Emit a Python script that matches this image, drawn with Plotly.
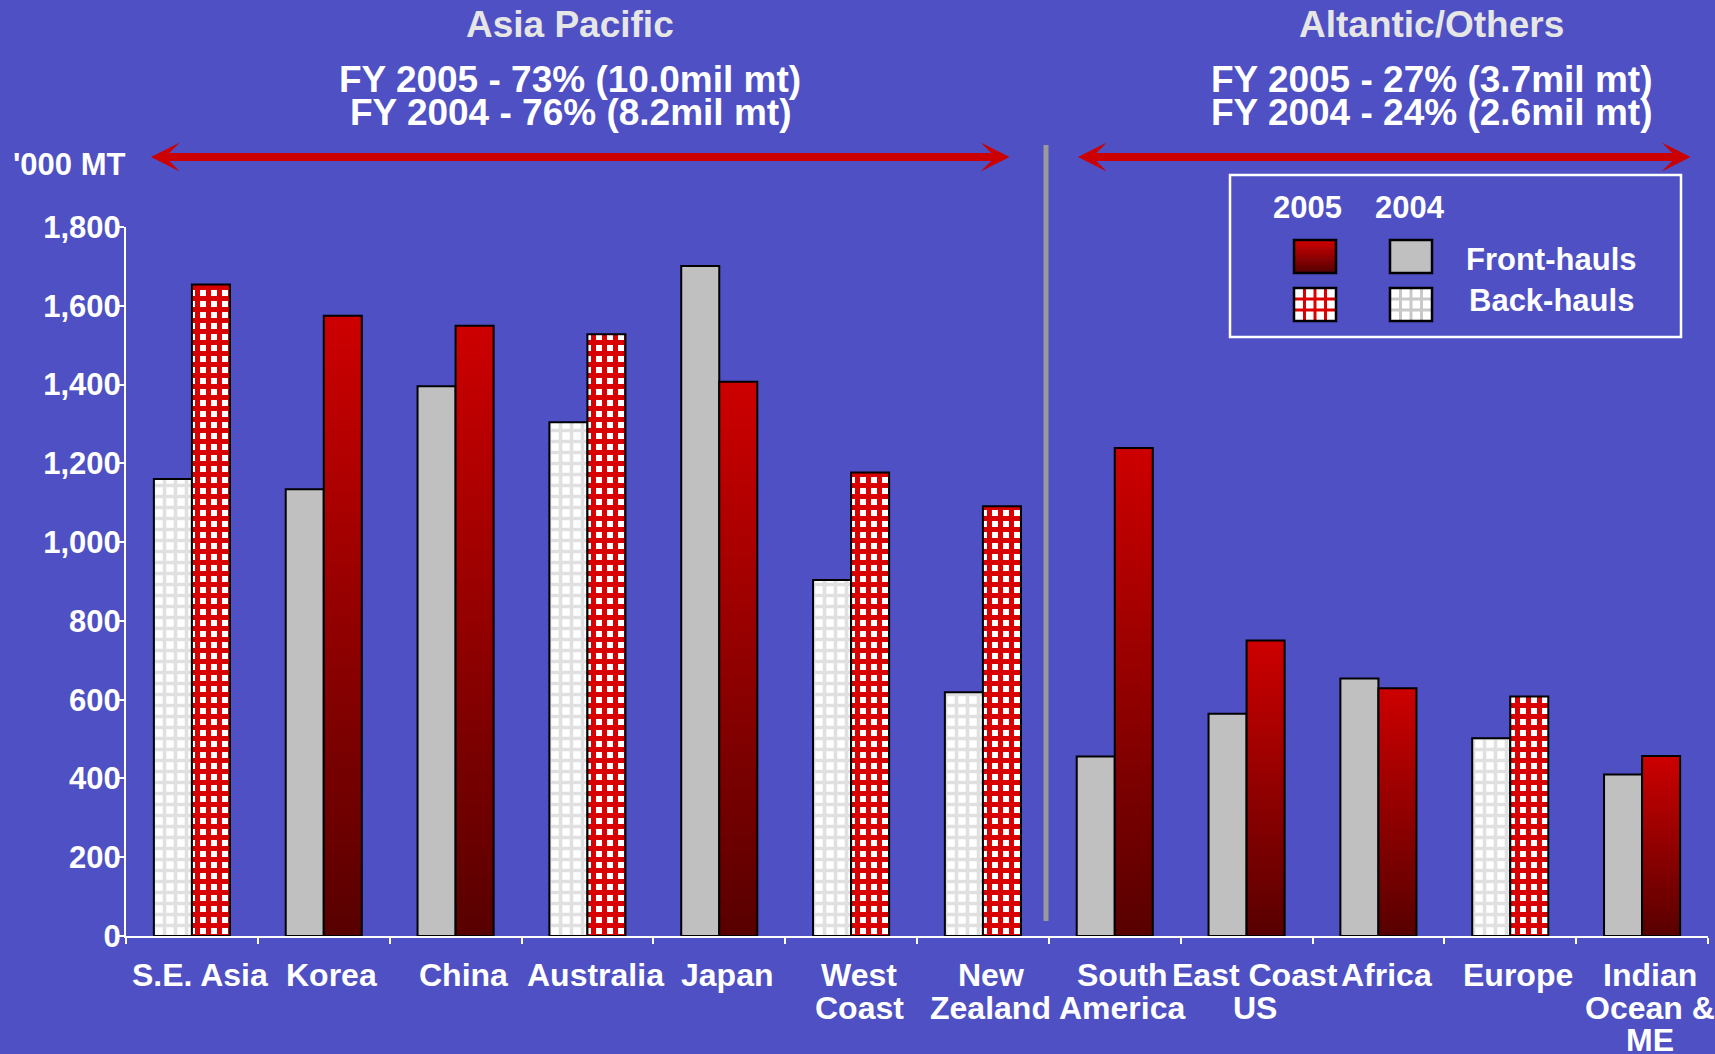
import plotly.graph_objects as go

# ---------------- data ----------------
categories = ["S.E. Asia", "Korea", "China", "Australia", "Japan", "West<br>Coast",
              "New<br>Zealand", "South<br>America", "East Coast<br>US", "Africa",
              "Europe", "Indian<br>Ocean &<br>ME"]
haul_type = ["Back", "Front", "Front", "Back", "Front", "Back",
             "Back", "Front", "Front", "Front", "Back", "Front"]
values_2004 = [1160, 1134, 1396, 1304, 1701, 904, 619, 456, 564, 654, 502, 410]
values_2005 = [1654, 1575, 1549, 1528, 1407, 1177, 1091, 1239, 750, 629, 608, 457]
y_ticks = [0, 200, 400, 600, 800, 1000, 1200, 1400, 1600, 1800]

region_titles = ["Asia Pacific", "Altantic/Others"]
region_line1 = ["FY 2005 - 73% (10.0mil mt)", "FY 2005 - 27% (3.7mil mt)"]
region_line2 = ["FY 2004 - 76% (8.2mil mt)", "FY 2004 - 24% (2.6mil mt)"]

# ---------------- style ----------------
BG = "#4E50C4"
FONT = "Liberation Sans, Arial, Helvetica, sans-serif"
GRAY = "#C0C0C0"
RED_TOP = (0xCC, 0x00, 0x00)
RED_BOTTOM = (0x58, 0x00, 0x00)
W, H = 1715, 1054
L, R, T, B = 126, 1708, 227, 936


def PX(x):
    return (x - L) / (R - L)


def PY(y):
    return (B - y) / (B - T)


def mix(t):
    return "rgb(%d,%d,%d)" % tuple(round(b + (a - b) * t) for a, b in zip(RED_TOP, RED_BOTTOM))


def only(values, kind):
    return [v if h == kind else None for v, h in zip(values, haul_type)]


fig = go.Figure()

# 2004 bars: front-hauls (solid gray) and back-hauls (gray grid on white)
fig.add_trace(go.Bar(
    x=categories, y=only(values_2004, "Front"), offsetgroup="2004", uid="f2004",
    name="2004 Front-hauls",
    marker=dict(color=GRAY, line=dict(color="black", width=2)),
))
fig.add_trace(go.Bar(
    x=categories, y=only(values_2004, "Back"), offsetgroup="2004", uid="b2004",
    name="2004 Back-hauls",
    marker=dict(color="#FFFFFF", line=dict(color="black", width=2),
                pattern=dict(shape="+", fgcolor="#C2C2C2", bgcolor="#FFFFFF",
                             size=11, solidity=0.55)),
))

# 2005 front-haul gradient (overlapping slices of each bar, dark bottom -> bright top)
N = 60
for i in range(N):
    t = i / (N - 1)
    base = [v * i / N if h == "Front" else None for v, h in zip(values_2005, haul_type)]
    hgt = [v * (1 - i / N) if h == "Front" else None for v, h in zip(values_2005, haul_type)]
    fig.add_trace(go.Bar(
        x=categories, y=hgt, base=base, offsetgroup="2005", uid="g%d" % i,
        marker=dict(color=mix(t), line=dict(width=0)),
        hoverinfo="skip", showlegend=False,
    ))

# 2005 front-haul outline
fig.add_trace(go.Bar(
    x=categories, y=only(values_2005, "Front"), offsetgroup="2005", uid="f2005",
    name="2005 Front-hauls",
    marker=dict(color="rgba(0,0,0,0)", line=dict(color="black", width=2)),
))
# 2005 back-hauls (red grid on white)
fig.add_trace(go.Bar(
    x=categories, y=only(values_2005, "Back"), offsetgroup="2005", uid="b2005",
    name="2005 Back-hauls",
    marker=dict(color="#FFFFFF", line=dict(color="black", width=2),
                pattern=dict(shape="+", fgcolor="#D80000", bgcolor="#FFFFFF",
                             fgopacity=1, size=11, solidity=0.7)),
))

shapes = []
annotations = []

# divider
shapes.append(dict(type="line", xref="paper", yref="paper",
                   x0=PX(1046), x1=PX(1046), y0=PY(145), y1=PY(921),
                   line=dict(color="#9A9A9A", width=5)))

# arrows
for x0, x1 in [(151, 1011), (1078, 1692)]:
    annotations.append(dict(
        xref="paper", yref="paper", x=PX(x0), y=PY(157), axref="pixel", ayref="pixel",
        ax=x1 - x0, ay=0, text="", showarrow=True, arrowhead=3, arrowsize=0.6,
        arrowwidth=8, arrowcolor="#CC0000", arrowside="end+start", startarrowhead=3,
        startarrowsize=0.6, standoff=0, startstandoff=0))


def txt(s, x, y, size, color="white", xanchor="center"):
    annotations.append(dict(xref="paper", yref="paper", x=PX(x), y=PY(y), text=s,
                            showarrow=False, xanchor=xanchor, yanchor="middle",
                            font=dict(family=FONT, size=size, color=color, weight="bold")))


for cx, title, l1, l2 in zip([570, 1431], region_titles, region_line1, region_line2):
    txt(title, cx, 24, 37, "#E6E6E6")
    txt(l1, cx, 79, 37)
    txt(l2, cx, 112, 37)

txt("'000 MT", 11, 165, 31, xanchor="left")

# category labels (one annotation per line for the tight line spacing of the original)
for cat in categories:
    for k, part in enumerate(cat.split("<br>")):
        annotations.append(dict(
            xref="x", yref="paper", x=cat, y=PY(975 + 32.5 * k), xshift=8,
            text=part, showarrow=False, xanchor="center", yanchor="middle",
            font=dict(family=FONT, size=32, color="white", weight="bold")))

# legend box
shapes.append(dict(type="rect", xref="paper", yref="paper",
                   x0=PX(1230), x1=PX(1681), y0=PY(175), y1=PY(337),
                   line=dict(color="white", width=2.5), fillcolor="rgba(0,0,0,0)"))
txt("2005", 1307, 207, 31)
txt("2004", 1410, 207, 31)
txt("Front-hauls", 1551, 259, 31)
txt("Back-hauls", 1551, 301, 31)


def rect(x0, y0, x1, y1, fill, line_w=0, line_c="black"):
    shapes.append(dict(type="rect", xref="paper", yref="paper",
                       x0=PX(x0), x1=PX(x1), y0=PY(y0), y1=PY(y1),
                       fillcolor=fill, line=dict(width=line_w, color=line_c)))


def line(x0, y0, x1, y1, color, w):
    shapes.append(dict(type="line", xref="paper", yref="paper",
                       x0=PX(x0), x1=PX(x1), y0=PY(y0), y1=PY(y1),
                       line=dict(color=color, width=w)))


# gradient swatch 2005 front
sx0, sx1, sy0, sy1 = 1294, 1336, 240, 273
K = 12
for k in range(K):
    ya = sy0 + (sy1 - sy0) * k / K
    yb = sy0 + (sy1 - sy0) * (k + 1) / K
    rect(sx0, ya, sx1, yb + 0.5, mix(1 - k / (K - 1)))
rect(sx0, sy0, sx1, sy1, "rgba(0,0,0,0)", 2.5)
# gray swatch 2004 front
rect(1390, 240, 1432, 273, GRAY, 2.5)
# pattern swatches
for (x0, x1), col in [((1294, 1336), "#DD0000"), ((1390, 1432), "#C8C8C8")]:
    y0, y1 = 288, 321
    rect(x0, y0, x1, y1, "#FFFFFF")
    for k in range(1, 4):
        xx = x0 + (x1 - x0) * k / 4
        line(xx, y0, xx, y1, col, 3)
    for k in range(1, 3):
        yy = y0 + (y1 - y0) * k / 3
        line(x0, yy, x1, yy, col, 3)
    rect(x0, y0, x1, y1, "rgba(0,0,0,0)", 2.5)

fig.update_layout(
    width=W, height=H,
    paper_bgcolor=BG, plot_bgcolor=BG,
    margin=dict(l=L, r=W - R, t=T, b=H - B, pad=0, autoexpand=False),
    barmode="group", bargap=0.423, bargroupgap=0,
    showlegend=False,
    font=dict(family=FONT, color="white"),
    shapes=shapes, annotations=annotations,
    xaxis=dict(type="category", range=[-0.5, len(categories) - 0.5], autorange=False,
               tickson="boundaries", ticks="outside", ticklen=6,
               tickwidth=2, tickcolor="white", showline=True, linecolor="white",
               linewidth=2, showgrid=False, showticklabels=False,
               automargin=False),
    yaxis=dict(range=[0, 1800], autorange=False, tickmode="array", tickvals=y_ticks,
               tickformat=",d",
               ticks="outside", ticklen=5, tickwidth=2, tickcolor="white",
               showline=True, linecolor="white", linewidth=2, showgrid=False,
               zeroline=False, automargin=False, ticklabelstandoff=-8,
               tickfont=dict(family=FONT, size=31, color="white", weight="bold")),
)

fig.write_html("out.html")
